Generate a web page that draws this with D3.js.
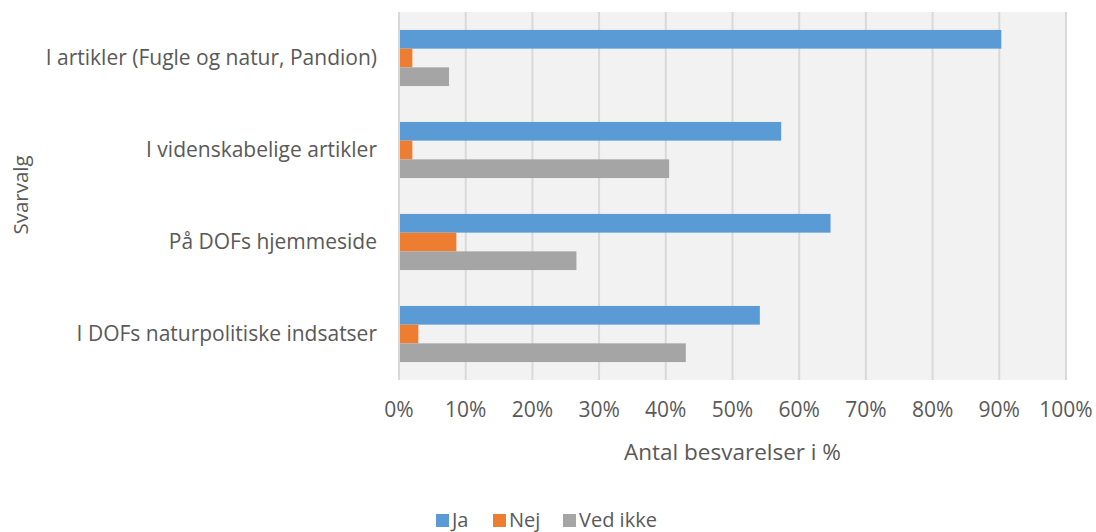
<!DOCTYPE html>
<html lang="da">
<head>
<meta charset="utf-8">
<style>
  body { margin: 0; background: #fff; }
  text { font-family: "Open Sans", sans-serif; fill: #595959; }
</style>
</head>
<body>
<script src="https://d3js.org/d3.v7.min.js"></script>
<script>
  const categories = [
    "I artikler (Fugle og natur, Pandion)",
    "I videnskabelige artikler",
    "På DOFs hjemmeside",
    "I DOFs naturpolitiske indsatser"
  ];
  const seriesNames = ["Ja", "Nej", "Ved ikke"];
  const ja = [90.3, 57.3, 64.7, 54.1];
  const nej = [2.0, 2.0, 8.6, 2.9];
  const vedIkke = [7.5, 40.5, 26.6, 43.0];
  const tickValues = [0, 10, 20, 30, 40, 50, 60, 70, 80, 90, 100];
  const colors = ["#5b9bd5", "#ed7d31", "#a5a5a5"];

  const width = 1096, height = 532;
  const margin = {top: 12, right: 30, bottom: 152, left: 399};
  const plotW = width - margin.left - margin.right;
  const plotH = height - margin.top - margin.bottom;

  const rows = categories.map((c, i) => ({cat: c, vals: [ja[i], nej[i], vedIkke[i]]}));

  const svg = d3.select("body").append("svg")
    .attr("width", width)
    .attr("height", height);

  const g = svg.append("g").attr("transform", `translate(${margin.left},${margin.top})`);

  const x = d3.scaleLinear().domain([0, 100]).range([0, plotW]);
  const y = d3.scaleBand().domain(categories).range([0, plotH]).paddingInner(0.39).paddingOuter(0.195);
  const y1 = d3.scaleBand().domain(seriesNames).range([0, y.bandwidth()]);

  g.append("rect")
    .attr("width", plotW)
    .attr("height", plotH)
    .attr("fill", "#f2f2f2");

  g.selectAll(".grid")
    .data(tickValues)
    .join("line")
      .attr("class", "grid")
      .attr("x1", d => x(d)).attr("x2", d => x(d))
      .attr("y1", 0).attr("y2", plotH)
      .attr("stroke", "#d9d9d9")
      .attr("stroke-width", 2);

  const groups = g.selectAll(".grp")
    .data(rows)
    .join("g")
      .attr("class", "grp")
      .attr("transform", d => `translate(0,${y(d.cat)})`);

  groups.selectAll("rect")
    .data(d => d.vals.map((v, i) => ({s: seriesNames[i], v: v, i: i})))
    .join("rect")
      .attr("x", x(0) + 1)
      .attr("y", d => y1(d.s))
      .attr("width", d => x(d.v) - x(0) - 1)
      .attr("height", y1.bandwidth())
      .attr("fill", d => colors[d.i]);

  // category labels
  g.selectAll(".cat")
    .data(categories)
    .join("text")
      .attr("class", "cat")
      .attr("x", -22)
      .attr("y", d => y(d) + y.bandwidth() / 2)
      .attr("dy", "0.35em")
      .attr("text-anchor", "end")
      .attr("font-size", 21)
      .text(d => d);

  // x tick labels
  g.selectAll(".tick-label")
    .data(tickValues)
    .join("text")
      .attr("class", "tick-label")
      .attr("x", d => x(d))
      .attr("y", plotH + 30)
      .attr("dy", "0.35em")
      .attr("text-anchor", "middle")
      .attr("font-size", 21)
      .text(d => d + "%");

  svg.append("text")
    .attr("x", margin.left + plotW / 2)
    .attr("y", 452)
    .attr("dy", "0.35em")
    .attr("text-anchor", "middle")
    .attr("font-size", 22.5)
    .text("Antal besvarelser i %");

  svg.append("text")
    .attr("transform", `translate(21,195) rotate(-90)`)
    .attr("dy", "0.35em")
    .attr("text-anchor", "middle")
    .attr("font-size", 20.5)
    .text("Svarvalg");

  // legend
  const legendX = [436, 493, 563];
  const legend = svg.selectAll(".legend")
    .data(seriesNames)
    .join("g")
      .attr("class", "legend")
      .attr("transform", (d, i) => `translate(${legendX[i]},514)`);
  legend.append("rect")
    .attr("width", 13).attr("height", 13)
    .attr("fill", (d, i) => colors[i]);
  legend.append("text")
    .attr("x", 16)
    .attr("y", 12.5)
    .attr("font-size", 20)
    .text(d => d);
</script>
</body>
</html>
